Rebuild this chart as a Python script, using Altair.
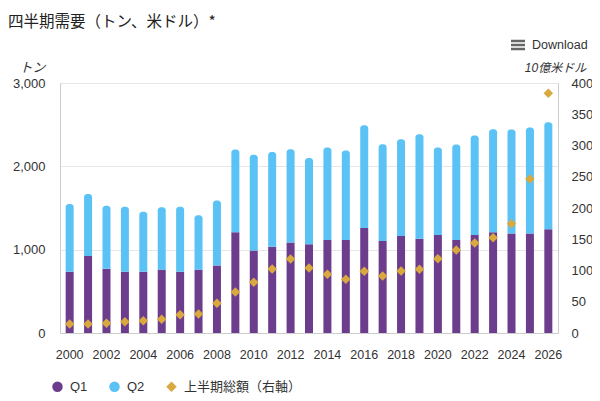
import altair as alt
import pandas as pd

years = list(range(2000, 2027))
q1 = [735, 925, 770, 735, 735, 760, 735, 760, 810, 1210, 990, 1035, 1085, 1065,
      1115, 1115, 1260, 1105, 1165, 1130, 1175, 1115, 1175, 1210, 1195, 1195, 1245]
q2 = [812, 744, 756, 780, 720, 748, 780, 652, 780, 992, 1148, 1136, 1120, 1036,
      1112, 1076, 1232, 1160, 1160, 1256, 1052, 1148, 1196, 1236, 1248, 1272, 1284]
h1_value = [14.4, 14.4, 15.5, 18.1, 19.7, 21.9, 29.3, 30.4, 47.5, 65.6, 81.1, 102.4, 118.4, 104.0,
            93.9, 85.9, 98.7, 91.2, 99.2, 101.9, 118.9, 132.8, 144.0, 152.5, 174.9, 246.4, 383.5]

series = ["Q1", "Q2", "上半期総額（右軸）"]
colors = ["#6B3D8C", "#5BC2F5", "#D9A83E"]
shapes = ["circle", "circle", "diamond"]
title_text = "四半期需要（トン、米ドル）*"

df = pd.DataFrame({"year": years, "q1": q1, "q2": q2, "h1": h1_value})
df["total"] = df["q1"] + df["q2"]

FONT = "Liberation Sans, 'Noto Sans CJK JP', sans-serif"

color_scale = alt.Scale(domain=series, range=colors)
shape_scale = alt.Scale(domain=series, range=shapes)
legend = alt.Legend(title=None, orient="none", legendX=-9, legendY=297, direction="horizontal",
                    labelFontSize=13, labelColor="#333", symbolSize=110, labelOffset=6,
                    columnPadding=20, symbolStrokeWidth=0, labelLimit=300)

x_enc = alt.X("year:O", title=None,
              scale=alt.Scale(paddingInner=0.55, paddingOuter=0.3),
              axis=alt.Axis(values=list(range(2000, 2027, 2)), labelAngle=0, ticks=False,
                            domain=True, domainColor="#cccccc", labelFontSize=12.5,
                            labelColor="#333", labelPadding=15))

y_left = alt.Scale(domain=[0, 3000], nice=False)
left_axis = alt.Axis(title="トン", values=[0, 1000, 2000, 3000], format=",d", grid=True,
                     gridColor="#e6e6e6", ticks=False, domain=True, domainColor="#cccccc",
                     labelFontSize=13, labelColor="#333", labelPadding=15,
                     titleAngle=0, titleX=-28, titleY=-16, titleAlign="center",
                     titleBaseline="middle", titleFontStyle="italic", titleFontWeight="normal",
                     titleFontSize=13, titleColor="#333")

bars_q1 = alt.Chart(df).transform_calculate(s="'Q1'").mark_bar(size=8).encode(
    x=x_enc,
    y=alt.Y("q1:Q", scale=y_left, axis=left_axis),
    color=alt.Color("s:N", scale=color_scale, legend=legend),
)
bars_q2 = alt.Chart(df).transform_calculate(s="'Q2'").mark_bar(
    size=8, cornerRadiusTopLeft=3, cornerRadiusTopRight=3).encode(
    x=x_enc,
    y=alt.Y("total:Q", scale=y_left),
    y2="q1:Q",
    color=alt.Color("s:N", scale=color_scale, legend=legend),
)
left = alt.layer(bars_q1, bars_q2)

right_axis = alt.Axis(title="10億米ドル", orient="right", values=list(range(0, 401, 50)),
                      grid=False, ticks=False, domain=True, domainColor="#cccccc",
                      labelFontSize=13, labelColor="#333", labelPadding=13,
                      titleAngle=0, titleX=-3, titleY=-16, titleAlign="center",
                      titleBaseline="middle", titleFontStyle="italic", titleFontWeight="normal",
                      titleFontSize=12, titleColor="#333")
points = alt.Chart(df).transform_calculate(s="'上半期総額（右軸）'").mark_point(
    filled=True, size=90, opacity=1).encode(
    x=x_enc,
    y=alt.Y("h1:Q", scale=alt.Scale(domain=[0, 400], nice=False), axis=right_axis),
    color=alt.Color("s:N", scale=color_scale, legend=legend),
    shape=alt.Shape("s:N", scale=shape_scale, legend=legend),
)

ann_df = pd.DataFrame({"t": [title_text]})
title_mark = alt.Chart(ann_df).mark_text(align="left", baseline="middle", fontSize=15.5,
                                         color="#222", font="'Noto Sans CJK JP', sans-serif").encode(
    text="t:N", x=alt.value(-52), y=alt.value(-61))
dl_df = pd.DataFrame({"t": ["Download"]})
dl_mark = alt.Chart(dl_df).mark_text(align="left", baseline="middle", fontSize=12.5,
                                     color="#333").encode(
    text="t:N", x=alt.value(472), y=alt.value(-38))
icon_layers = []
for dy in (-42, -38, -34):
    icon_layers.append(
        alt.Chart(dl_df).mark_rule(color="#666", strokeWidth=2.5).encode(
            x=alt.value(451), x2=alt.value(465), y=alt.value(dy)))

chart = alt.layer(left, points, title_mark, dl_mark, *icon_layers).resolve_scale(
    y="independent"
).properties(
    width=498, height=250,
    autosize=alt.AutoSizeParams(type="none"),
    padding={"left": 52, "top": 75, "right": 34, "bottom": 60},
).configure(font=FONT).configure_view(stroke="#e0e0e0", strokeWidth=1)

chart.save("out.html", embed_options={"renderer": "svg", "actions": False})
